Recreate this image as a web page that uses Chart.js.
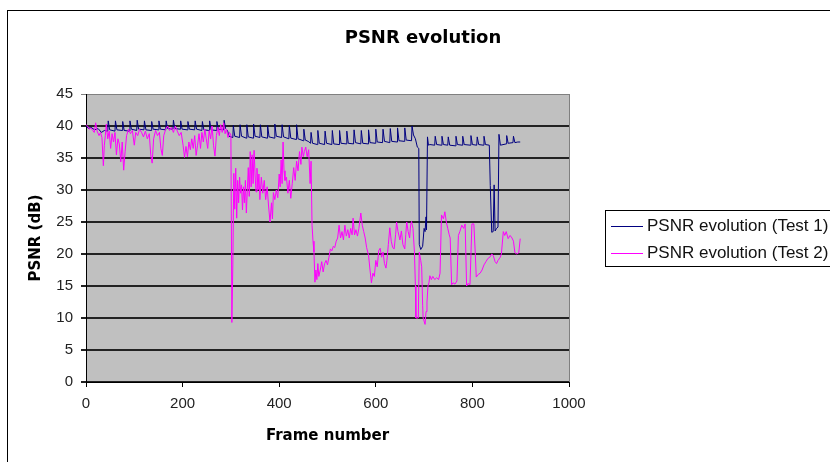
<!DOCTYPE html>
<html>
<head>
<meta charset="utf-8">
<title>PSNR evolution</title>
<script src="https://cdn.jsdelivr.net/npm/chart.js@4/dist/chart.umd.min.js"></script>
<style>
  html, body { margin: 0; padding: 0; background: #fff; }
  #psnr-chart { display: block; }
</style>
</head>
<body>
<canvas id="psnr-chart" width="830" height="462"></canvas>
<script>
// Test 1: frame numbers and PSNR (dB)
const test1Frames = [
  0, 5, 10, 18, 25, 32, 38, 45,
  46, 49, 60, 61, 64, 75, 76, 79, 90, 91, 94, 105, 106, 109, 120,
  121, 124, 135, 136, 139, 150, 151, 154, 165, 166, 169, 180, 181, 184, 195,
  196, 199, 210, 211, 214, 225, 226, 229, 240, 241, 244, 255, 256, 259, 270,
  271, 274, 285, 286, 289, 293, 296, 304,
  305, 308, 318, 319, 322, 332, 333, 336, 346, 347, 350, 360, 361, 364, 375,
  376, 379, 390, 391, 394, 405, 406, 409, 420, 421, 424, 435, 436, 439, 450,
  451, 454, 460, 465, 466, 469, 479,
  480, 483, 494, 495, 498, 509, 510, 513, 524, 525, 528, 539, 540, 543, 554,
  555, 558, 569, 570, 573, 584, 585, 588, 599, 600, 603, 614, 615, 618, 629,
  630, 633, 644, 645, 648, 659, 660, 663, 674,
  675, 678, 682, 686, 689, 690, 693, 697, 700, 702, 704, 705, 707, 709, 712, 722,
  723, 726, 736, 737, 740, 749, 750, 753, 765, 766, 769, 779, 780, 783, 796,
  797, 800, 809, 810, 813, 823, 824, 827, 835,
  837, 840, 843, 845, 847, 850, 853, 855, 858, 870, 871, 874, 884, 885, 888, 894, 899
];
const test1Psnr = [
  40.0, 39.6, 39.8, 39.4, 39.6, 39.0, 39.3, 39.2,
  40.8, 39.4, 39.2, 40.8, 39.4, 39.3, 40.7, 39.3, 39.2, 40.8, 39.5, 39.3, 40.9, 39.5, 39.4,
  40.8, 39.4, 39.3, 40.7, 39.5, 39.4, 40.8, 39.5, 39.4, 40.8, 39.6, 39.5, 40.9, 39.6, 39.5,
  40.8, 39.5, 39.4, 40.7, 39.5, 39.4, 40.8, 39.5, 39.3, 40.7, 39.4, 39.3, 40.8, 39.4, 39.3,
  40.7, 39.5, 39.4, 40.9, 39.6, 39.3, 38.4, 38.2,
  40.1, 38.4, 38.2, 40.2, 38.4, 38.1, 40.2, 38.3, 38.1, 40.3, 38.4, 38.2, 40.2, 38.3, 38.1,
  40.1, 38.3, 38.1, 40.3, 38.4, 38.2, 40.2, 38.3, 38.0, 40.1, 38.1, 37.9, 40.2, 38.0, 37.7,
  39.5, 37.8, 37.6, 37.3, 39.0, 37.3, 37.1,
  39.3, 37.3, 37.1, 39.2, 37.3, 37.1, 39.3, 37.2, 37.1, 39.3, 37.3, 37.2, 39.2, 37.3, 37.2,
  39.4, 37.4, 37.2, 39.3, 37.3, 37.2, 39.4, 37.4, 37.3, 39.5, 37.5, 37.4, 39.5, 37.6, 37.4,
  39.6, 37.6, 37.5, 39.7, 37.7, 37.6, 39.7, 37.8, 37.7,
  40.0, 38.6, 38.0, 36.7, 36.5, 21.5, 20.7, 21.2, 24.0, 23.5, 25.8, 23.8, 38.3, 37.0, 37.1, 37.0,
  38.4, 37.1, 37.0, 38.4, 37.1, 37.0, 38.3, 37.0, 36.9, 38.4, 37.1, 37.0, 38.4, 37.1, 37.0,
  38.5, 37.1, 37.0, 38.3, 37.1, 37.0, 38.4, 37.1, 37.0,
  30.7, 23.4, 23.5, 30.8, 23.6, 24.0, 24.2, 38.7, 37.0, 37.2, 38.5, 37.3, 37.4, 38.4, 37.4, 37.5, 37.5
];

// Test 2: frame numbers and PSNR (dB)
const test2Frames = [
  0, 3, 7, 10, 14, 17, 20, 23, 27, 30, 33, 36, 38, 40, 42, 45, 48, 51, 54, 57,
  60, 63, 66, 69, 72, 75, 78, 81, 84, 88, 92, 96, 100, 103, 107, 111, 115, 119, 123, 127,
  131, 134, 137, 140, 144, 148, 152, 155, 158, 161, 165, 169, 173, 177, 181, 185, 189, 193, 197, 201,
  204, 207, 210, 213, 216, 219, 222, 225, 228, 231, 234, 237, 240, 243, 246, 249, 252, 255, 258, 261,
  264, 267, 270, 273, 276, 279, 282, 285, 288, 291, 294, 297, 300, 302, 304, 306, 308, 310, 312, 314,
  316, 318, 320, 322, 324, 326, 328, 330, 332, 334, 336, 338, 340, 342, 344, 346, 348, 350, 352, 354,
  356, 358, 360, 363, 366, 369, 372, 375, 378, 381, 384, 386, 388, 391, 394, 397, 400, 402, 404, 406,
  408, 410, 412, 415, 418, 421, 424, 427, 430, 433, 436, 439, 442, 445, 447, 450, 452, 455, 458, 461,
  464, 466, 468, 470, 472, 474, 476, 478, 480, 482, 485, 488, 491, 494, 497, 500, 503, 506, 509, 512,
  515, 518, 521, 524, 527, 530, 533, 536, 539, 542, 545, 548, 551, 553, 556, 559, 562, 565, 569, 572,
  575, 578, 581, 585, 588, 591, 594, 597, 600, 603, 606, 609, 612, 615, 618, 621, 623, 626, 629, 632,
  635, 638, 641, 643, 646, 650, 653, 656, 660, 662, 664, 667, 670, 672, 674, 677, 680, 682, 683, 688,
  690, 693, 695, 697, 698, 702, 704, 706, 708, 710, 712, 715, 718, 722, 726, 730, 733, 736, 740, 743,
  746, 749, 752, 754, 757, 760, 764, 768, 771, 774, 778, 782, 785, 788, 791, 795, 799, 803, 806, 808,
  812, 816, 820, 824, 828, 832, 836, 840, 843, 847, 850, 853, 857, 860, 864, 867, 870, 874, 878, 882,
  885, 888, 892, 896, 899
];
const test2Psnr = [
  40.2, 40.0, 39.5, 39.7, 39.3, 39.0, 40.5, 39.2, 38.5, 39.0, 38.2, 33.8, 37.0, 38.5, 40.3, 38.0, 39.2, 36.5, 38.8, 37.5,
  39.0, 35.5, 38.0, 37.2, 34.4, 37.5, 33.1, 36.0, 38.5, 39.5, 38.8, 39.3, 37.0, 39.0, 38.5, 39.5, 39.0, 38.3, 39.2, 38.0,
  38.8, 35.5, 34.2, 38.0, 39.3, 38.5, 39.0, 36.5, 35.4, 38.5, 39.5, 40.0, 39.3, 39.8, 39.0, 40.0, 39.2, 38.5, 39.0, 37.0,
  35.1, 36.8, 35.2, 37.5, 36.3, 38.0, 36.5, 38.5, 35.4, 37.0, 38.8, 36.5, 39.0, 37.5, 39.5, 38.0, 36.5, 39.3, 38.0, 40.0,
  37.0, 35.3, 38.5, 39.8, 38.5, 40.2, 39.0, 40.5, 38.8, 39.5, 38.2, 39.0, 38.6, 9.3, 18.3, 32.6, 27.0, 33.4, 25.6, 31.5,
  28.0, 32.0, 29.5, 30.8, 26.9, 30.5, 28.0, 31.5, 26.4, 30.0, 33.5, 29.0, 36.0, 30.5, 35.5, 31.0, 36.2, 32.5, 29.7, 33.4,
  30.0, 32.5, 28.5, 32.0, 29.5, 31.5, 28.5, 30.5, 27.5, 25.0, 28.0, 25.5, 29.6, 28.5, 30.0, 28.8, 32.5, 30.5, 34.7, 31.0,
  37.5, 33.0, 31.5, 32.0, 29.5, 31.5, 28.7, 31.0, 33.5, 31.5, 34.5, 33.0, 36.0, 34.0, 36.7, 35.2, 36.0, 36.7, 35.2, 36.3,
  31.0, 34.5, 24.5, 22.0, 20.3, 15.6, 17.5, 16.0, 18.5, 16.5, 17.5, 18.8, 17.2, 18.5, 19.0, 18.3, 19.5, 20.8, 20.5, 21.2,
  21.0, 22.0, 22.5, 24.5, 22.5, 23.5, 22.2, 24.5, 22.8, 23.8, 22.5, 24.0, 23.0, 25.6, 23.0, 23.8, 22.8, 24.0, 26.4, 24.5,
  23.5, 22.5, 21.0, 19.8, 17.5, 15.5, 17.0, 16.5, 19.0, 18.0, 20.5, 20.9, 19.5, 20.3, 18.5, 17.8, 19.0, 21.5, 24.1, 22.0,
  21.0, 20.8, 23.0, 25.0, 23.5, 22.2, 23.6, 21.5, 20.8, 23.0, 25.0, 23.5, 22.5, 24.5, 25.1, 24.0, 20.3, 15.0, 10.0, 10.0,
  20.3, 19.0, 18.0, 12.0, 10.0, 9.0, 11.0, 12.5, 15.0, 15.5, 16.6, 16.0, 16.5, 16.0, 16.3, 16.0, 17.0, 26.1, 25.5, 26.6,
  25.0, 24.0, 23.0, 22.5, 15.2, 15.5, 15.3, 15.8, 22.9, 23.5, 24.5, 24.0, 24.7, 15.0, 15.4, 15.2, 24.7, 24.7, 20.0, 16.4,
  16.8, 17.0, 17.5, 18.3, 18.8, 19.3, 19.5, 20.0, 19.8, 18.8, 18.5, 19.0, 19.4, 20.0, 23.5, 22.9, 23.5, 22.4, 22.9, 22.5,
  22.0, 20.2, 20.0, 20.2, 22.4
];

const seriesLabels = ['PSNR evolution (Test 1)', 'PSNR evolution (Test 2)'];
const seriesColors = ['#000080', '#ff00ff'];

const toPoints = (frames, values) => frames.map((f, i) => ({ x: f, y: values[i] }));

const tickFont = { family: '"Liberation Sans", Arial, sans-serif', size: 15 };
const axisTitleFont = { family: '"DejaVu Sans", Verdana, sans-serif', size: 15, weight: 'bold' };

// grey plot background, outer frame, title and boxed legend
const excelLook = {
  id: 'excelLook',
  beforeDraw(chart) {
    const { ctx, chartArea: a } = chart;
    ctx.save();
    ctx.fillStyle = '#c0c0c0';
    ctx.fillRect(a.left, a.top, a.right - a.left, a.bottom - a.top);
    ctx.restore();
  },
  beforeDatasetsDraw(chart) {
    const { ctx, chartArea: a } = chart;
    ctx.save();
    ctx.strokeStyle = '#808080';
    ctx.lineWidth = 1;
    ctx.beginPath();
    ctx.moveTo(a.right + 0.5, a.top);
    ctx.lineTo(a.right + 0.5, a.bottom);
    ctx.stroke();
    ctx.restore();
  },
  afterDraw(chart) {
    const ctx = chart.ctx;
    ctx.save();
    // outer frame
    ctx.strokeStyle = '#000';
    ctx.lineWidth = 1;
    ctx.strokeRect(7.5, 10.5, 900, 500);
    // title
    ctx.fillStyle = '#000';
    ctx.font = 'bold 18px "DejaVu Sans", Verdana, sans-serif';
    ctx.textAlign = 'center';
    ctx.textBaseline = 'middle';
    ctx.fillText('PSNR evolution', 423, 38);
    // legend
    ctx.strokeStyle = '#000';
    ctx.strokeRect(605.5, 210.5, 260, 56);
    ctx.font = '17px "Liberation Sans", Arial, sans-serif';
    ctx.textAlign = 'left';
    chart.data.datasets.forEach((ds, i) => {
      const y = 226 + i * 27;
      ctx.strokeStyle = ds.borderColor;
      ctx.beginPath();
      ctx.moveTo(611, y + 0.5);
      ctx.lineTo(643, y + 0.5);
      ctx.stroke();
      ctx.fillStyle = '#111';
      ctx.fillText(ds.label, 647, y);
    });
    ctx.restore();
  }
};

new Chart(document.getElementById('psnr-chart'), {
  type: 'line',
  data: {
    datasets: [
      { label: seriesLabels[0], data: toPoints(test1Frames, test1Psnr),
        borderColor: seriesColors[0], borderWidth: 1, pointRadius: 0, tension: 0, order: 1 },
      { label: seriesLabels[1], data: toPoints(test2Frames, test2Psnr),
        borderColor: seriesColors[1], borderWidth: 1, pointRadius: 0, tension: 0, order: 0 }
    ]
  },
  options: {
    responsive: false,
    animation: false,
    devicePixelRatio: 1,
    layout: { padding: { left: 0, top: 94, right: 261, bottom: 0 } },
    plugins: { legend: { display: false }, title: { display: false }, tooltip: { enabled: false } },
    scales: {
      x: {
        type: 'linear', min: 0, max: 1000,
        afterFit(s) { s.height = 80; },
        ticks: { stepSize: 200, color: '#222', padding: 8, font: tickFont,
                 callback: v => String(v) },
        grid: { drawOnChartArea: false, color: '#000', tickLength: 5 },
        border: { color: '#000', width: 1 },
        title: { display: true, text: 'Frame number', color: '#000', font: axisTitleFont,
                 padding: { top: 4, bottom: 17 } }
      },
      y: {
        min: 0, max: 45,
        afterFit(s) { s.width = 86; },
        ticks: { stepSize: 5, color: '#222', padding: 8, font: tickFont },
        grid: { color: c => (c.tick && c.tick.value === 45 ? '#808080' : '#222'),
                lineWidth: c => (c.tick && c.tick.value === 45 ? 1 : 2), tickLength: 5 },
        border: { color: '#000', width: 1 },
        title: { display: true, text: 'PSNR (dB)', color: '#000', font: axisTitleFont,
                 padding: { top: 27, bottom: 4 } }
      }
    }
  },
  plugins: [excelLook]
});
</script>
</body>
</html>
